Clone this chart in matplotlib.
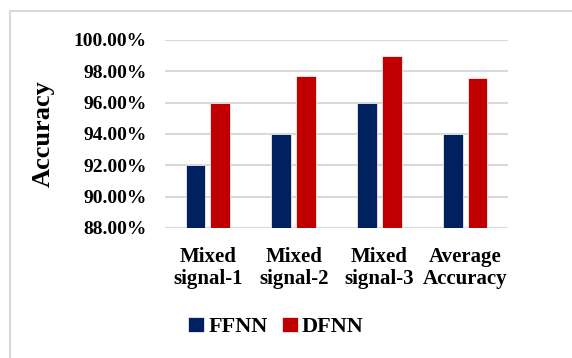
import matplotlib.pyplot as plt
import numpy as np
from matplotlib.patches import Rectangle
from matplotlib.ticker import PercentFormatter

plt.rcParams['font.family'] = 'Liberation Serif'
plt.rcParams['font.weight'] = 'bold'
plt.rcParams['axes.labelweight'] = 'bold'

categories = ['Mixed\nsignal-1', 'Mixed\nsignal-2', 'Mixed\nsignal-3', 'Average\nAccuracy']
ffnn = [92.0, 94.0, 96.0, 94.0]
dfnn = [96.0, 97.7, 99.0, 97.6]
yticks = [88, 90, 92, 94, 96, 98, 100]

fig = plt.figure(figsize=(5.72, 3.58), dpi=100)
# light grey frame around the chart area
fig.patches.append(Rectangle((10 / 572, -0.1), 1.2, 1 - 11 / 358 + 0.1,
                             transform=fig.transFigure, fill=False,
                             edgecolor='#d9d9d9', linewidth=1.5))

ax = fig.add_axes([165 / 572, 1 - 228 / 358, 343 / 572, 188 / 358])
x = np.arange(len(categories))
w = 0.23
ax.bar(x - 0.145, ffnn, w, color='#002060', edgecolor='white', linewidth=0.5, label='FFNN', zorder=3)
ax.bar(x + 0.145, dfnn, w, color='#c00000', edgecolor='white', linewidth=0.5, label='DFNN', zorder=3)

ax.set_ylim(88, 100)
ax.set_xlim(-0.5, 3.5)
ax.set_yticks(yticks)
ax.yaxis.set_major_formatter(PercentFormatter(decimals=2))
ax.set_xticks(x)
ax.set_xticklabels(categories, fontsize=15, linespacing=1.1)
ax.tick_params(axis='y', labelsize=14, length=0, pad=13)
ax.tick_params(axis='x', length=0, pad=14)
ax.grid(axis='y', color='#d9d9d9', linewidth=1.5, zorder=0)
for s in ax.spines.values():
    s.set_visible(False)
ax.set_ylabel('Accuracy', fontsize=19)
ax.yaxis.set_label_coords(-(165 - 55) / 343, 0.5)

fig.legend(loc='center', bbox_to_anchor=(276 / 572, 1 - 327 / 358), ncol=2,
           frameon=False, fontsize=16, handlelength=0.7, handleheight=0.7,
           handletextpad=0.2, columnspacing=0.65)

fig.savefig('out.png', dpi=100)
